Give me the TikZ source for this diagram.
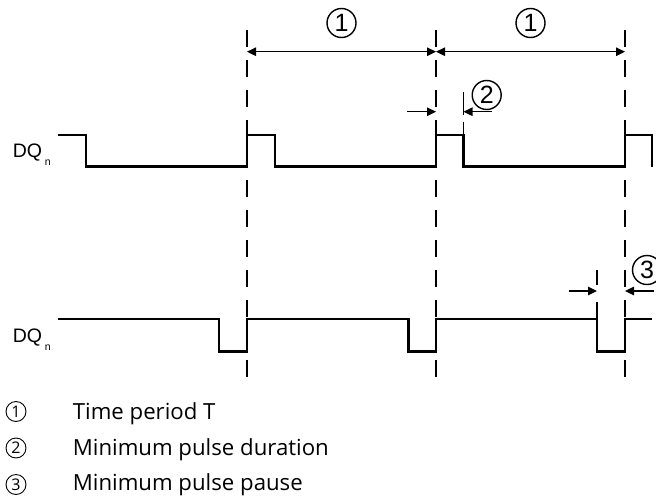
\documentclass[tikz,border=0pt]{standalone}
\usepackage{fontspec}
\setmainfont{Liberation Sans}
\newfontfamily\legfont{Open Sans}
\newfontfamily\dqfont{Liberation Sans}
\usetikzlibrary{arrows.meta}
\begin{document}
\begin{tikzpicture}[x=1pt,y=-1pt,
  sig/.style={line width=2.5pt, line join=miter},
  guide/.style={line width=1.3pt, dash pattern=on 17pt off 13pt},
  tick/.style={line width=1.2pt},
  dim/.style={line width=1.2pt, -{Triangle[length=9pt,width=8.5pt]}},
  dimboth/.style={line width=1.2pt, {Triangle[length=9pt,width=8.5pt]}-{Triangle[length=9pt,width=8.5pt]}},
  callout/.style={circle, draw, line width=1.4pt, minimum size=29pt, inner sep=0pt, font=\dqfont\fontsize{25}{25}\selectfont},
  legcirc/.style={circle, draw, line width=0.9pt, minimum size=20pt, inner sep=0pt, font=\legfont\fontsize{16}{16}\selectfont},
  legtext/.style={anchor=base west, inner sep=0pt, font=\legfont\fontsize{22.2}{26}\selectfont},
  dqlab/.style={anchor=base west, inner sep=0pt, font=\dqfont\fontsize{19.5}{20}\selectfont},
  sublab/.style={anchor=base west, inner sep=0pt, font=\dqfont\fontsize{10.5}{11}\selectfont},
]
\useasboundingbox (0,0) rectangle (656,501);

% guide lines
\coordinate (g1t) at (247,30);  \coordinate (g1b) at (247,377);
\coordinate (g2t) at (436,30);  \coordinate (g2b) at (436,377);
\coordinate (g3t) at (625,30);  \coordinate (g3b) at (625,377);
\draw[guide] (g1t) -- (g1b);
\draw[guide] (g2t) -- (g2b);
\draw[guide] (g3t) -- (g3b);

% top signal
\draw[sig] (57.5,135) -- (86,135) -- (86,166.7) -- (247,166.7) -- (247,135) -- (275,135) -- (275,166.7)
  -- (436,166.7) -- (436,135) -- (463.5,135) -- (463.5,166.7) -- (625,166.7) -- (625,135) -- (652,135) -- (652,166.7);

% bottom signal
\draw[sig] (57.5,319) -- (219,319) -- (219,351.7) -- (247,351.7) -- (247,319) -- (408.5,319) -- (408.5,351.7)
  -- (436,351.7) -- (436,319) -- (597,319) -- (597,351.7) -- (625,351.7) -- (625,319) -- (652,319);

% labels DQn
\node[dqlab] (dq1) at (12.7,157.5) {DQ};
\node[sublab, xshift=2.3pt, yshift=-8pt] (n1) at (dq1.base east) {n};
\node[dqlab] (dq2) at (12.7,342.5) {DQ};
\node[sublab, xshift=2.3pt, yshift=-8pt] (n2) at (dq2.base east) {n};

% period arrows
\coordinate (p1a) at (247,51.7);
\coordinate (p1b) at (436,51.7);
\coordinate (p2b) at (625,51.7);
\draw[dimboth] (p1a) -- (p1b);
\draw[dimboth] (p1b) -- (p2b);
\node[callout] (c1a) at (341.5,23) {1};
\node[callout] (c1b) at (530.5,23) {1};

% minimum pulse duration
\coordinate (d2l) at (407,111.7);
\coordinate (d2a) at (436,111.7);
\coordinate (d2b) at (463.5,111.7);
\coordinate (d2r) at (492,111.7);
\draw[dim] (d2l) -- (d2a);
\draw[dim] (d2r) -- (d2b);
\draw[tick] (463.5,91.7) -- (463.5,115);
\draw[tick] (463.5,121.7) -- (463.5,135);
\node[callout] (c2) at (486.7,95) {2};

% minimum pulse pause
\coordinate (d3l) at (569.3,291);
\coordinate (d3a) at (597,291);
\coordinate (d3b) at (625,291);
\coordinate (d3r) at (654,291);
\draw[dim] (d3l) -- (d3a);
\draw[dim] (d3r) -- (d3b);
\draw[tick] (597,270) -- (597,285);
\draw[tick] (597,301.7) -- (597,319);
\node[callout] (c3) at (647,270) {3};

% legend
\node[legcirc] (l1) at (16,411.5) {1};
\node[legcirc] (l2) at (16,448) {2};
\node[legcirc] (l3) at (16,484.5) {3};
\node[legtext] (t1) at (72.7,419.5) {Time period T};
\node[legtext] (t2) at (72.7,455) {Minimum pulse duration};
\node[legtext] (t3) at (72.7,490.5) {Minimum pulse pause};
\end{tikzpicture}
\end{document}
